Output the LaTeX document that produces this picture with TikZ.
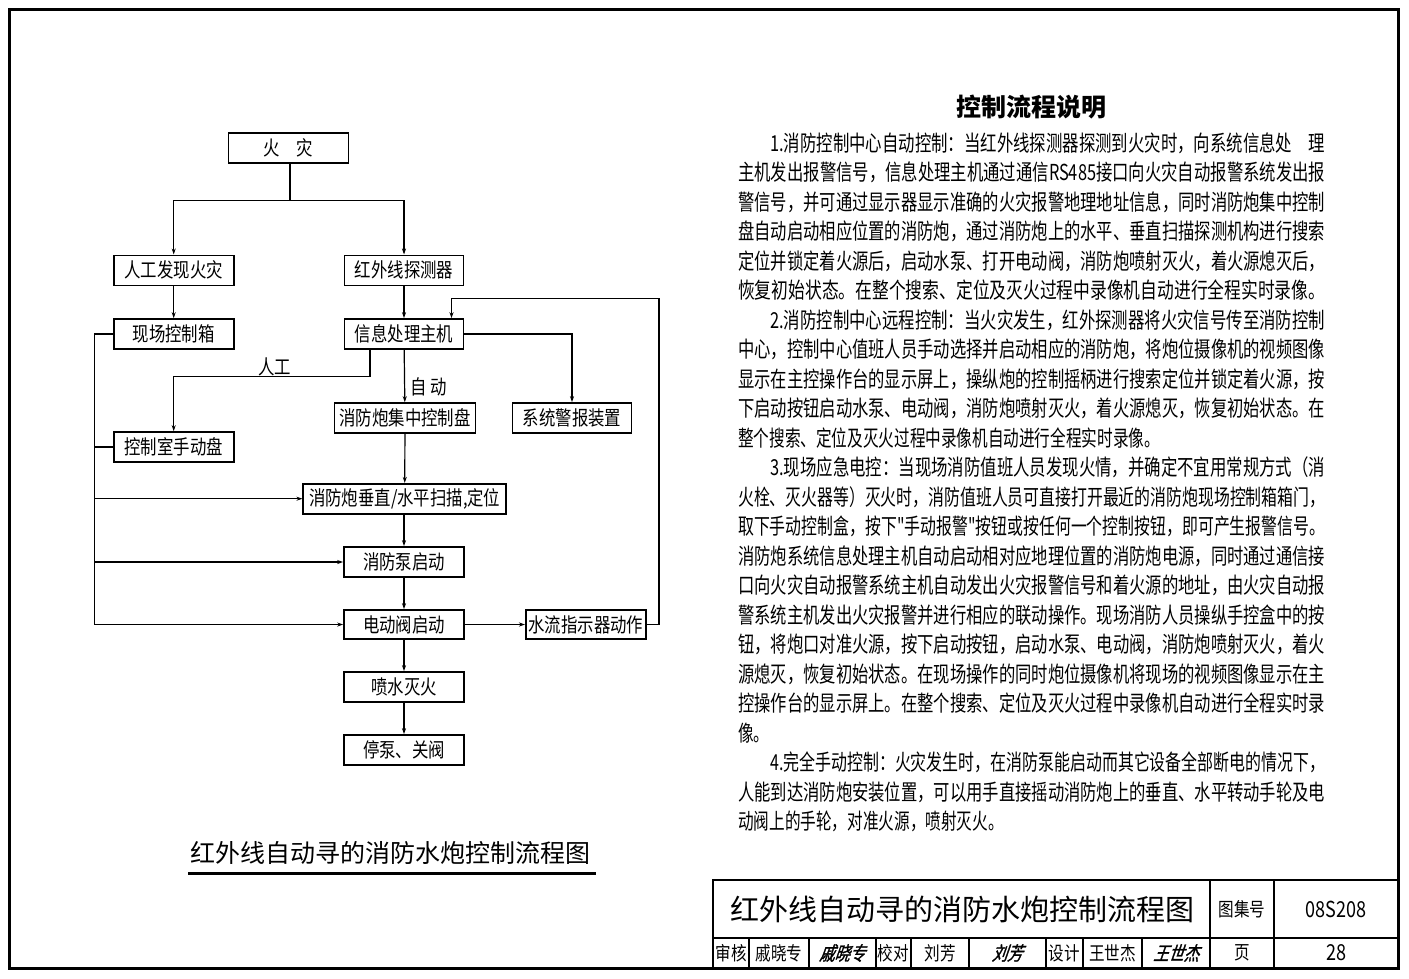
\documentclass[tikz,border=0pt]{standalone}
\usepackage{fontspec}
\usepackage{graphicx}
\usetikzlibrary{arrows.meta}
\newfontfamily\cjk{Noto Sans CJK SC}
\newfontfamily\cjkn[FakeStretch=0.82]{Noto Sans CJK SC}
\newfontfamily\cjksig[FakeSlant=0.35,FakeBold=1.5,FakeStretch=0.8]{Noto Sans CJK SC}
\newcommand{\boxfont}{\cjkn\fontsize{20}{20}\selectfont}
\newcommand{\bodyfont}{\cjk\fontsize{22}{22}\selectfont}
\newcommand{\cellfont}{\cjkn\fontsize{19}{19}\selectfont}
\newcommand{\fw}[2]{\resizebox{#1pt}{\height}{#2}}
\newcommand{\sw}[1]{\scalebox{0.71}[1]{#1}}
\begin{document}
\begin{tikzpicture}[x=1pt,y=-1pt,
  box/.style={draw,line width=1.6pt,inner sep=0pt,minimum height=30pt,font=\boxfont},
  conn/.style={line width=1.2pt},
  arr/.style={conn,-{Stealth[length=6pt,width=4pt]}},
  body/.style={anchor=west,inner sep=0pt,font=\bodyfont},
  cell/.style={inner sep=0pt,font=\cellfont},
  sig/.style={inner sep=0pt,font=\cjksig\fontsize{19}{19}\selectfont}]
\useasboundingbox (0,0) rectangle (1409,978);
% frame
\draw[line width=3pt] (9,9) rectangle (1398,968);

% ---------- flow chart ----------
\node[box,minimum width=120pt] (fire) at (288.5,148) {火　灾};
\node[box,minimum width=120pt] (manual) at (173.7,270.3) {人工发现火灾};
\node[box,minimum width=119pt] (ir) at (404,270.3) {红外线探测器};
\node[box,minimum width=120pt] (site) at (173.7,334) {现场控制箱};
\node[box,minimum width=119pt] (host) at (404,334) {信息处理主机};
\node[box,minimum width=120pt] (room) at (173.7,447) {控制室手动盘};
\node[box,minimum width=141pt] (panel) at (405,418) {消防炮集中控制盘};
\node[box,minimum width=119pt] (alarm) at (572,418) {系统警报装置};
\node[box,minimum width=203pt] (scan) at (404.7,498.7) {消防炮垂直/水平扫描,定位};
\node[box,minimum width=120pt] (pump) at (404,562) {消防泵启动};
\node[box,minimum width=120pt,minimum height=29pt] (valve) at (404,624.5) {电动阀启动};
\node[box,minimum width=120pt,minimum height=29pt] (flow) at (585.8,624.5) {水流指示器动作};
\node[box,minimum width=120pt] (spray) at (404,687) {喷水灭火};
\node[box,minimum width=120pt] (stop) at (404,750) {停泵、关阀};

\coordinate (j1) at (290,200.7);
\draw[conn] (fire.south -| j1) -- (j1);
\draw[arr] (j1) -| (manual.north);
\draw[arr] (j1) -| (ir.north);
\draw[arr] (manual) -- (site);
\draw[arr] (ir) -- (host);

\coordinate (hm) at (370,376.7);
\draw[arr] (host.south -| hm) -- (hm) -| (room.north);
\node[inner sep=0pt,font=\boxfont] (lblman) at (274.6,367) {人工};
\draw[arr] (host) -- (panel);
\node[inner sep=0pt,font=\boxfont] (lblauto) at (429,386.7) {自\,动};
\draw[arr] (host.east) -| (alarm.north);

\draw[arr] (panel) -- (scan);
\draw[arr] (scan.south -| pump) -- (pump);
\draw[arr] (pump) -- (valve);
\draw[arr] (valve) -- (spray);
\draw[arr] (spray) -- (stop);
\draw[arr] (valve) -- (flow);

\coordinate (fb1) at (659,298.3);
\coordinate (fb2) at (451.5,298.3);
\draw[arr] (flow.east) -| (fb1) -- (fb2) -- (fb2 |- host.north);

\coordinate (bt) at (94.6,334);
\coordinate (bb) at (94.6,624.5);
\draw[conn] (site.west) -- (bt) -- (bb);
\draw[conn] (room.west) -- (room.west -| bt);
\draw[arr] (scan.west -| bt) -- (scan.west);
\draw[arr] (pump.west -| bt) -- (pump.west);
\draw[arr] (bb) -- (valve.west);

\node[inner sep=0pt,font=\cjk\fontsize{25}{25}\selectfont] (cap) at (390,853) {红外线自动寻的消防水炮控制流程图};
\draw[line width=3pt] (188,873) -- (596,873);

% ---------- description ----------
\node[inner sep=0pt,font=\cjk\bfseries\fontsize{25}{25}\selectfont] (ttl) at (1031,107) {控制流程说明};
\node[body] (l1) at (770,143) {\fw{555}{1.消防控制中心自动控制：当红外线探测器探测到火灾时，向系统信息处　理}};
\node[body] (l2) at (738,172.5) {\fw{587}{主机发出报警信号，信息处理主机通过通信RS485接口向火灾自动报警系统发出报}};
\node[body] (l3) at (738,202) {\fw{587}{警信号，并可通过显示器显示准确的火灾报警地理地址信息，同时消防炮集中控制}};
\node[body] (l4) at (738,231.5) {\fw{587}{盘自动启动相应位置的消防炮，通过消防炮上的水平、垂直扫描探测机构进行搜索}};
\node[body] (l5) at (738,261) {\fw{587}{定位并锁定着火源后，启动水泵、打开电动阀，消防炮喷射灭火，着火源熄灭后，}};
\node[body] (l6) at (738,290.5) {\fw{587}{恢复初始状态。在整个搜索、定位及灭火过程中录像机自动进行全程实时录像。}};
\node[body] (l7) at (770,320) {\fw{555}{2.消防控制中心远程控制：当火灾发生，红外探测器将火灾信号传至消防控制}};
\node[body] (l8) at (738,349.5) {\fw{587}{中心，控制中心值班人员手动选择并启动相应的消防炮，将炮位摄像机的视频图像}};
\node[body] (l9) at (738,379) {\fw{587}{显示在主控操作台的显示屏上，操纵炮的控制摇柄进行搜索定位并锁定着火源，按}};
\node[body] (l10) at (738,408.5) {\fw{587}{下启动按钮启动水泵、电动阀，消防炮喷射灭火，着火源熄灭，恢复初始状态。在}};
\node[body] (l11) at (738,438) {\sw{整个搜索、定位及灭火过程中录像机自动进行全程实时录像。}};
\node[body] (l12) at (770,467.5) {\fw{555}{3.现场应急电控：当现场消防值班人员发现火情，并确定不宜用常规方式（消}};
\node[body] (l13) at (738,497) {\fw{587}{火栓、灭火器等）灭火时，消防值班人员可直接打开最近的消防炮现场控制箱箱门，}};
\node[body] (l14) at (738,526.5) {\fw{587}{取下手动控制盒，按下"手动报警"按钮或按任何一个控制按钮，即可产生报警信号。}};
\node[body] (l15) at (738,556) {\fw{587}{消防炮系统信息处理主机自动启动相对应地理位置的消防炮电源，同时通过通信接}};
\node[body] (l16) at (738,585.5) {\fw{587}{口向火灾自动报警系统主机自动发出火灾报警信号和着火源的地址，由火灾自动报}};
\node[body] (l17) at (738,615) {\fw{587}{警系统主机发出火灾报警并进行相应的联动操作。现场消防人员操纵手控盒中的按}};
\node[body] (l18) at (738,644.5) {\fw{587}{钮，将炮口对准火源，按下启动按钮，启动水泵、电动阀，消防炮喷射灭火，着火}};
\node[body] (l19) at (738,674) {\fw{587}{源熄灭，恢复初始状态。在现场操作的同时炮位摄像机将现场的视频图像显示在主}};
\node[body] (l20) at (738,703.5) {\fw{587}{控操作台的显示屏上。在整个搜索、定位及灭火过程中录像机自动进行全程实时录}};
\node[body] (l21) at (738,733) {\sw{像。}};
\node[body] (l22) at (770,762.5) {\fw{555}{4.完全手动控制：火灾发生时，在消防泵能启动而其它设备全部断电的情况下，}};
\node[body] (l23) at (738,792) {\fw{587}{人能到达消防炮安装位置，可以用手直接摇动消防炮上的垂直、水平转动手轮及电}};
\node[body] (l24) at (738,821.5) {\sw{动阀上的手轮，对准火源，喷射灭火。}};

% ---------- title block ----------
\draw[line width=2pt] (713,968) -- (713,880) -- (1398,880);
\draw[line width=1.5pt] (713,938) -- (1398,938);
\foreach \xx in {1210,1274} \draw[line width=1.5pt] (\xx,880) -- (\xx,968);
\foreach \xx in {749,809,876,911,969,1046,1083,1142} \draw[line width=1.2pt] (\xx,938) -- (\xx,968);
\node[inner sep=0pt,font=\cjk\fontsize{29}{29}\selectfont] (tbt) at (962,909) {红外线自动寻的消防水炮控制流程图};
\node[cell] (tjh) at (1242,909) {图集号};
\node[inner sep=0pt,font=\cjkn\fontsize{22}{22}\selectfont] (tno) at (1336,909) {08S208};
\node[cell] (c1) at (731,953) {审核};
\node[cell] (c2) at (779,953) {戚晓专};
\node[sig] (s1) at (842,953) {戚晓专};
\node[cell] (c3) at (893.5,953) {校对};
\node[cell] (c4) at (940,953) {刘芳};
\node[sig] (s2) at (1007,953) {刘芳};
\node[cell] (c5) at (1064.5,953) {设计};
\node[cell] (c6) at (1112.5,953) {王世杰};
\node[sig] (s3) at (1176,953) {王世杰};
\node[cell] (c7) at (1242,953) {页};
\node[inner sep=0pt,font=\cjkn\fontsize{22}{22}\selectfont] (tpg) at (1336,953) {28};
\end{tikzpicture}
\end{document}
